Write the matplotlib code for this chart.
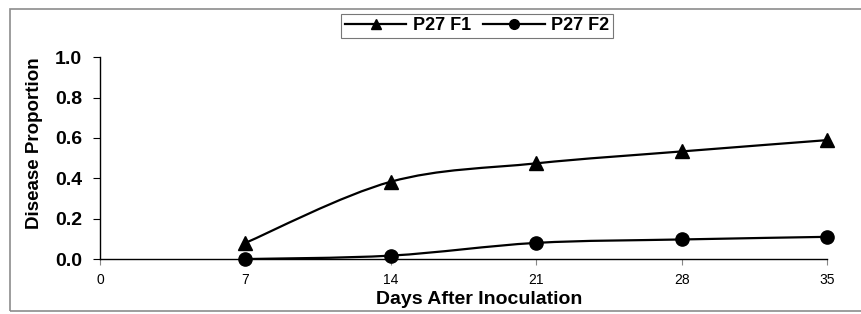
import numpy as np
from matplotlib import pyplot as plt
from matplotlib.path import Path
from matplotlib.patches import PathPatch, Rectangle
from matplotlib.lines import Line2D

days = [7, 14, 21, 28, 35]
f1_values = [0.08, 0.383, 0.474, 0.533, 0.589]
f2_values = [0.0, 0.017, 0.08, 0.097, 0.11]
series_names = ["P27 F1", "P27 F2"]
x_ticks = [0, 7, 14, 21, 28, 35]
y_ticks = [0.0, 0.2, 0.4, 0.6, 0.8, 1.0]

plt.rcParams['font.family'] = ['Liberation Sans', 'DejaVu Sans']


def smooth_path(xs, ys):
    # Excel-style smoothed line: cubic bezier segments through the data points
    pts = np.column_stack([xs, ys]).astype(float)
    verts = [pts[0]]
    codes = [Path.MOVETO]
    n = len(pts)
    for i in range(n - 1):
        p0 = pts[i - 1] if i > 0 else pts[i]
        p1 = pts[i]
        p2 = pts[i + 1]
        p3 = pts[i + 2] if i + 2 < n else pts[i + 1]
        c1 = p1 + (p2 - p0) / 6.0
        c2 = p2 - (p3 - p1) / 6.0
        verts += [c1, c2, p2]
        codes += [Path.CURVE4] * 3
    return Path(verts, codes)


fig = plt.figure(figsize=(8.62, 3.14), dpi=100)
ax = fig.add_axes([0.116, 0.175, 0.8434, 0.643])

# outer chart border
fig.patches.append(Rectangle((10 / 862, 3 / 314), 1.0, 302 / 314, transform=fig.transFigure,
                             fill=False, edgecolor='#8c8c8c', linewidth=1.2))

for vals, marker in [(f1_values, '^'), (f2_values, 'o')]:
    ax.add_patch(PathPatch(smooth_path(days, vals), fill=False, edgecolor='black',
                           linewidth=1.6, zorder=3))
    ax.plot(days, vals, linestyle='none', marker=marker, markersize=9.5,
            color='black', zorder=4, clip_on=False)

ax.set_xlim(0, 35)
ax.set_ylim(0, 1.0)
ax.set_xticks(x_ticks)
ax.set_xticklabels([str(t) for t in x_ticks], fontsize=10)
ax.set_yticks(y_ticks)
ax.set_yticklabels([f"{t:.1f}" for t in y_ticks], fontsize=14, fontweight='bold')
ax.tick_params(axis='x', length=4, width=0.8, color='#888888', pad=6)
ax.tick_params(axis='y', length=5, width=0.8, pad=8)
for s in ['top', 'right']:
    ax.spines[s].set_visible(False)
ax.spines['left'].set_linewidth(1.0)
ax.spines['bottom'].set_linewidth(1.0)

ax.set_xlabel("Days After Inoculation", fontsize=14, fontweight='bold')
ax.xaxis.set_label_coords(0.522, -0.16)
ax.set_ylabel("Disease Proportion", fontsize=13.5, fontweight='bold')
ax.yaxis.set_label_coords(-0.078, 0.572)

handles = [Line2D([], [], color='black', linewidth=1.6, marker='^', markersize=7),
           Line2D([], [], color='black', linewidth=1.6, marker='o', markersize=7)]
leg = fig.legend(handles, series_names, loc='center', bbox_to_anchor=(477 / 862, 1 - 26 / 314),
                 ncol=2, frameon=True, fancybox=False, edgecolor='#555555',
                 prop={'weight': 'bold', 'size': 13}, handlelength=3.4, columnspacing=0.7,
                 handletextpad=0.35, borderpad=0.2, borderaxespad=0)
leg.get_frame().set_linewidth(0.8)

fig.savefig("out.png", dpi=100)
